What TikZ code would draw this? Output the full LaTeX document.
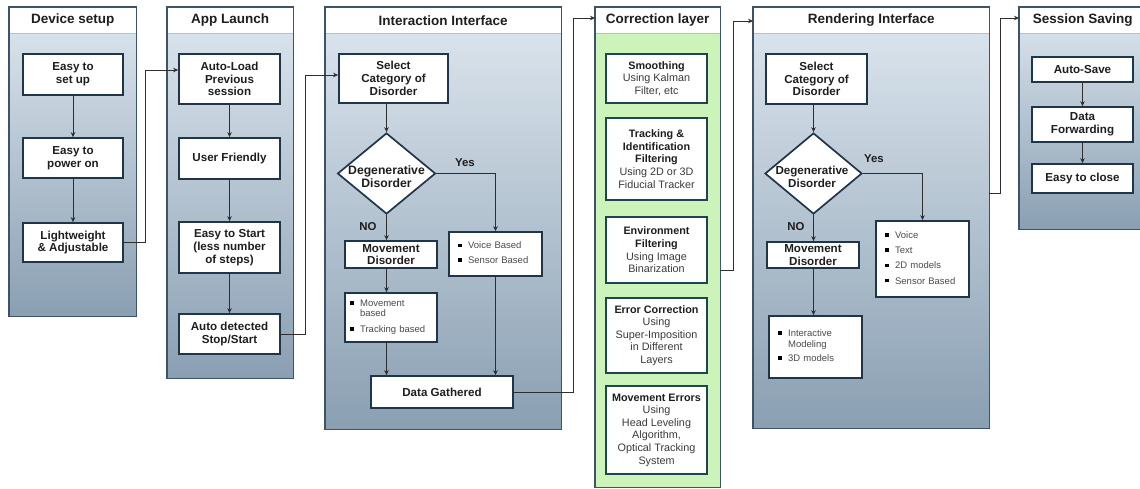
\documentclass[tikz,border=0pt]{standalone}
\usepackage{fontspec}
\setmainfont{Liberation Sans}
\usetikzlibrary{arrows.meta,shapes.geometric}

\definecolor{lanetop}{HTML}{DEE7EF}
\definecolor{lanebot}{HTML}{8A9FB2}
\definecolor{lanebd}{HTML}{3D5468}
\definecolor{headsep}{HTML}{B4C2CF}
\definecolor{boxbd}{HTML}{1F354A}
\definecolor{corrgreen}{HTML}{CCF4BA}
\definecolor{corrbd}{HTML}{1E4650}
\definecolor{textdark}{HTML}{1E1E1E}
\definecolor{textsoft}{HTML}{3A3A3A}
\definecolor{listgray}{HTML}{4A4A4A}
\definecolor{conn}{HTML}{2E2E2E}

\newcommand\lstbullet{\raisebox{1.6pt}{\color{black}\rule{3.6pt}{3.6pt}}}

\begin{document}
\begin{tikzpicture}[x=1pt,y=-1pt,
  lanebody/.style={top color=lanetop, bottom color=lanebot, anchor=north west, inner sep=0pt},
  greenbody/.style={fill=corrgreen, anchor=north west, inner sep=0pt},
  lanehead/.style={fill=white, anchor=north west, inner sep=0pt, minimum height=26,
    text=textdark, font=\fontsize{13.5}{15}\selectfont\bfseries},
  laneframe/.style={draw=lanebd, line width=1.1pt},
  sepline/.style={draw=headsep, line width=0.8pt},
  sz/.style 2 args={minimum width=#1, minimum height=#2},
  stepbox/.style={draw=boxbd, line width=1.7pt, fill=white, align=center, inner sep=0pt,
    text=textdark, font=\fontsize{11.6}{12.8}\selectfont\bfseries},
  corrbox/.style={draw=corrbd, line width=2.2pt, fill=white, align=center, inner sep=0pt,
    text=textsoft, font=\fontsize{10.8}{12.6}\selectfont},
  listbox/.style={draw=boxbd, line width=1.7pt, fill=white, inner sep=0pt,
    text=listgray, font=\fontsize{9.5}{10.4}\selectfont},
  decide/.style={diamond, draw=boxbd, line width=1.7pt, fill=white, inner sep=0pt,
    minimum width=98, minimum height=81},
  dtext/.style={align=center, inner sep=0pt, text=textdark, font=\fontsize{12.2}{12.8}\selectfont\bfseries},
  branch/.style={inner sep=0pt, text=textdark, font=\fontsize{11.4}{12}\selectfont\bfseries},
  arr/.style={draw=conn, line width=0.8pt, -{Stealth[length=5pt,width=4.5pt]}},
  link/.style={draw=conn, line width=0.8pt}
]
\useasboundingbox (0,0) rectangle (1140,488);

% ---------- lanes ----------
\node[lanebody, sz={127}{309}] (L1) at (9,7) {};
\node[lanehead, minimum width=127] (H1) at (9,7) {Device setup};
\node[lanebody, sz={126}{371}] (L2) at (167,7) {};
\node[lanehead, minimum width=126] (H2) at (167,7) {App Launch};
\node[lanebody, sz={236}{422}] (L3) at (325,7) {};
\node[lanehead, minimum width=236] (H3) at (325,7) {Interaction Interface};
\node[greenbody, sz={125}{480}] (L4) at (595,7) {};
\node[lanehead, minimum width=125] (H4) at (595,7) {Correction layer};
\node[lanebody, sz={236}{421}] (L5) at (753,7) {};
\node[lanehead, minimum width=236] (H5) at (753,7) {Rendering Interface};
\node[lanebody, sz={135}{222}] (L6) at (1019,7) {};
\node[lanehead, minimum width=127] (H6) at (1019,7) {Session Saving};

\foreach \l/\h in {L1/H1,L2/H2,L3/H3,L4/H4,L5/H5,L6/H6}{
  \draw[sepline] (\h.south west) -- (\h.south west -| \l.east);
  \draw[laneframe] (\l.north west) rectangle (\l.south east);
}

% ---------- Device setup ----------
\node[stepbox, sz={100}{41}] (d1) at (73,74.5) {Easy to\\set up};
\node[stepbox, sz={100}{40}] (d2) at (73,158) {Easy to\\power on};
\node[stepbox, sz={100}{39}] (d3) at (73,242.5) {Lightweight\\\& Adjustable};
\draw[arr] (d1) -- (d2);
\draw[arr] (d2) -- (d3);

% ---------- App Launch ----------
\node[stepbox, sz={101}{50}] (a1) at (229.5,79) {Auto-Load\\Previous\\session};
\node[stepbox, sz={101}{41}] (a2) at (229.5,158.5) {User Friendly};
\node[stepbox, sz={101}{51}] (a3) at (229.5,247.5) {Easy to Start\\(less number\\of steps)};
\node[stepbox, sz={101}{40}] (a4) at (229.5,334) {Auto detected\\Stop/Start};
\draw[arr] (a1) -- (a2);
\draw[arr] (a2) -- (a3);
\draw[arr] (a3) -- (a4);

\coordinate (t1) at (145,70);
\draw[arr] (d3.east) -| (t1) -- (t1 -| a1.west);

% ---------- Interaction Interface ----------
\node[stepbox, sz={109}{49}] (i1) at (393.5,78.5) {Select\\Category of\\Disorder};
\node[decide] (i2) at (386.5,173.5) {};
\node[dtext] (i2t) at (386.5,177) {Degenerative\\Disorder};
\node[stepbox, sz={92}{27}] (i3) at (391,254.5) {Movement\\Disorder};
\node[listbox, sz={93}{44}, text width=75, inner xsep=9pt] (i4) at (495.5,254)
  {\begin{tabular}{@{}l@{\hspace{6.5pt}}l@{}}\lstbullet & Voice Based\\[4.2pt]\lstbullet & Sensor Based\end{tabular}};
\node[listbox, sz={92}{49}, text width=82, inner xsep=5pt] (i5) at (391,317.5)
  {\begin{tabular}{@{}l@{\hspace{6.5pt}}l@{}}\lstbullet & Movement\\ & based\\[5.4pt]\lstbullet & Tracking based\end{tabular}};
\node[stepbox, sz={142}{32}] (i6) at (442,392) {Data Gathered};

\draw[arr] (i2.north |- i1.south) -- (i2.north);
\draw[arr] (i2.south) -- (i2.south |- i3.north);
\draw[arr] (i2.east) -| (i4.north);
\draw[arr] (i2.south |- i3.south) -- (i2.south |- i5.north);
\draw[arr] (i2.south |- i5.south) -- (i2.south |- i6.north);
\draw[arr] (i4.south) -- (i4.south |- i6.north);
\node[branch] (iy) at (465,163) {Yes};
\node[branch] (in) at (368,227) {NO};

\coordinate (t2) at (305,75);
\draw[arr] (a4.east) -| (t2) -- (t2 -| i1.west);

% ---------- Correction layer ----------
\node[corrbox, sz={101}{49}] (c1) at (656.5,78.5)
  {{\bfseries\color{textdark}Smoothing}\\Using Kalman\\Filter, etc};
\node[corrbox, sz={101}{82}] (c2) at (656.5,159)
  {{\bfseries\color{textdark}Tracking \&}\\{\bfseries\color{textdark}Identification}\\{\bfseries\color{textdark}Filtering}\\Using 2D or 3D\\Fiducial Tracker};
\node[corrbox, sz={101}{66}] (c3) at (656.5,250)
  {{\bfseries\color{textdark}Environment}\\{\bfseries\color{textdark}Filtering}\\Using Image\\Binarization};
\node[corrbox, sz={101}{75}] (c4) at (656.5,335.5)
  {{\bfseries\color{textdark}Error Correction}\\Using\\Super-Imposition\\in Different\\Layers};
\node[corrbox, sz={101}{88}] (c5) at (656.5,430)
  {{\bfseries\color{textdark}Movement Errors}\\Using\\Head Leveling\\Algorithm,\\Optical Tracking\\System};

\coordinate (t3) at (573,18);
\draw[arr] (i6.east) -| (t3) -- (t3 -| L4.west);

% ---------- Rendering Interface ----------
\node[stepbox, sz={101}{50}] (r1) at (816.5,79) {Select\\Category of\\Disorder};
\node[decide, minimum width=97] (r2) at (813.5,173.5) {};
\node[dtext, font=\fontsize{11.6}{12.6}\selectfont\bfseries] (r2t) at (812,177) {Degenerative\\Disorder};
\node[stepbox, sz={92}{26}] (r3) at (813,255) {Movement\\Disorder};
\node[listbox, sz={93}{76}, text width=75, inner xsep=9pt] (r4) at (922.5,259)
  {\begin{tabular}{@{}l@{\hspace{6.5pt}}l@{}}\lstbullet & Voice\\[4.9pt]\lstbullet & Text\\[4.9pt]\lstbullet & 2D models\\[4.9pt]\lstbullet & Sensor Based\end{tabular}};
\node[listbox, sz={93}{62}, text width=75, inner xsep=9pt] (r5) at (815.5,347)
  {\begin{tabular}{@{}l@{\hspace{6.5pt}}l@{}}\lstbullet & Interactive\\ & Modeling\\[4pt]\lstbullet & 3D models\end{tabular}};

\draw[arr] (r2.north |- r1.south) -- (r2.north);
\draw[arr] (r2.south) -- (r2.south |- r3.north);
\draw[arr] (r2.east) -| (r4.north);
\draw[arr] (r2.south |- r3.south) -- (r2.south |- r5.north);
\node[branch] (ry) at (874,159) {Yes};
\node[branch] (rn) at (796,227) {NO};

\coordinate (o4) at (720,270);
\coordinate (t4) at (733,21);
\draw[arr] (o4) -| (t4) -- (t4 -| L5.west);

% ---------- Session Saving ----------
\node[stepbox, sz={101}{25}] (s1) at (1082.5,69.5) {Auto-Save};
\node[stepbox, sz={101}{35}] (s2) at (1082.5,124.5) {Data\\Forwarding};
\node[stepbox, sz={101}{29}] (s3) at (1082.5,178.5) {Easy to close};
\draw[arr] (s1) -- (s2);
\draw[arr] (s2) -- (s3);

\coordinate (o5) at (989,193);
\coordinate (t5) at (1000,18);
\draw[arr] (o5) -| (t5) -- (t5 -| L6.west);

\end{tikzpicture}
\end{document}
